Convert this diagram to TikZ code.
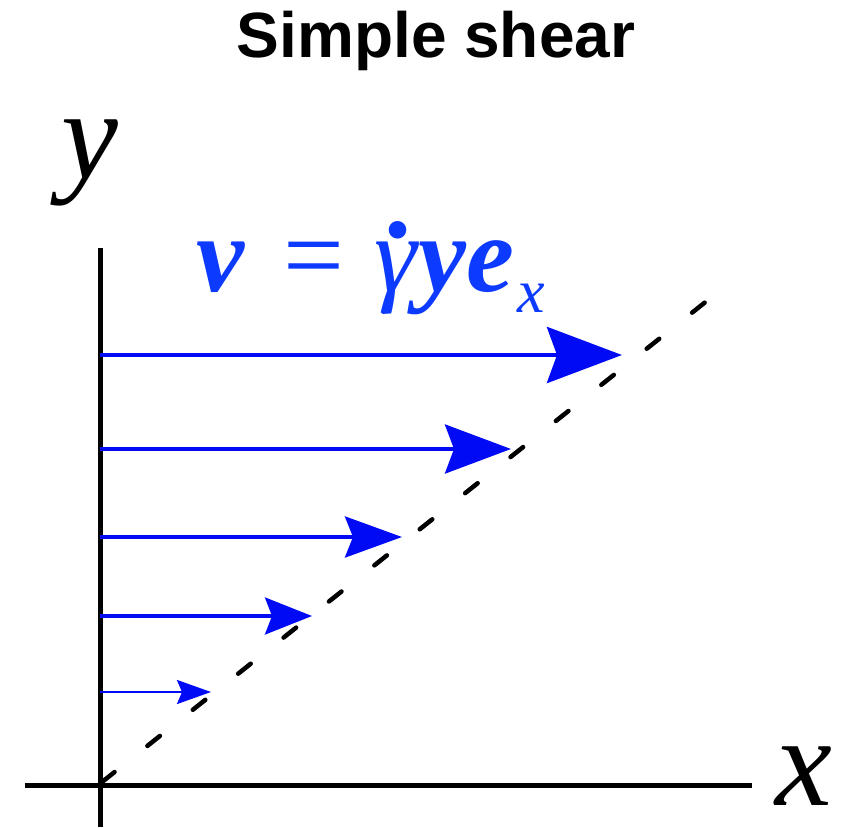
\documentclass[tikz,border=0pt]{standalone}
\usepackage{fontspec}
\setmainfont{Liberation Serif}
\newfontfamily\titlefont{Liberation Sans}
\usetikzlibrary{arrows.meta}
\definecolor{eqblue}{RGB}{12,58,255}
\definecolor{arrblue}{RGB}{0,10,245}
\tikzset{
  axisline/.style={line width=5pt, black},
  diag/.style={line width=4.5pt, black, line cap=round, dash pattern=on 16pt off 42pt, dash phase=0pt},
  varrow/.style={arrblue},
  lbl/.style={inner sep=0pt, font=\fontsize{128}{128}\selectfont\itshape},
}
\newcommand{\gdot}{\rlap{\kern0.1em\raisebox{0.5em}{\bfseries .}}\itshape γ}
\begin{document}
\begin{tikzpicture}[x=1pt,y=-1pt]
\useasboundingbox (0,0) rectangle (845,827);
% title
\node[inner sep=0pt, anchor=base, font=\titlefont\bfseries\fontsize{64}{64}\selectfont] (title) at (436,57) {Simple shear};
% axes
\coordinate (ytop) at (100,248);
\coordinate (ybot) at (100,827);
\coordinate (xl) at (25,785);
\coordinate (xr) at (752,785);
\draw[axisline] (ytop) -- (ybot);
\draw[axisline] (xl) -- (xr);
\node[lbl, anchor=base] (ylab) at (90,178) {y};
\node[lbl, anchor=base] (xlab) at (804,805) {x};
% dashed line
\coordinate (d0) at (102,782);
\coordinate (d1) at (713,296);
\draw[diag] (d0) -- (d1);
% arrows
\coordinate (a1s) at (100,355); \coordinate (a1e) at (622,355);
\coordinate (a2s) at (100,449); \coordinate (a2e) at (511,449);
\coordinate (a3s) at (100,537); \coordinate (a3e) at (402,537);
\coordinate (a4s) at (100,616); \coordinate (a4e) at (312,616);
\coordinate (a5s) at (100,692); \coordinate (a5e) at (211,692);
\draw[varrow, line width=4.5pt, -{Stealth[length=75pt, width=56pt, inset=10pt]}] (a1s) -- (a1e);
\draw[varrow, line width=4pt, -{Stealth[length=66pt, width=49pt, inset=9pt]}] (a2s) -- (a2e);
\draw[varrow, line width=3.8pt, -{Stealth[length=57pt, width=41pt, inset=8pt]}] (a3s) -- (a3e);
\draw[varrow, line width=3.2pt, -{Stealth[length=47pt, width=37pt, inset=7pt]}] (a4s) -- (a4e);
\draw[varrow, line width=2.5pt, -{Stealth[length=34pt, width=24pt, inset=5pt]}] (a5s) -- (a5e);
% equation
\node[inner sep=0pt, anchor=base west, text=eqblue, font=\fontsize{108}{108}\selectfont] (eq) at (196,291)
  {{\bfseries\itshape v}\hspace{39pt}=\hspace{30pt}{\gdot}\kern0.02em{\bfseries\itshape ye}\kern0.03em\raisebox{-0.2em}{\fontsize{62}{62}\selectfont\itshape x}};
\end{tikzpicture}
\end{document}
